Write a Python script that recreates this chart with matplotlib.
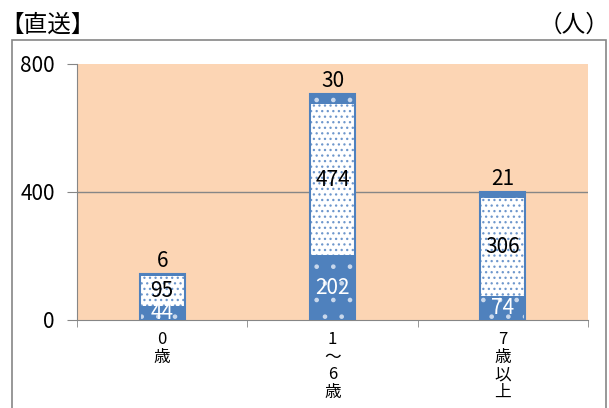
import numpy as np
import matplotlib.pyplot as plt
from matplotlib.patches import Rectangle

plt.rcParams['font.family'] = ['Noto Sans CJK JP', 'DejaVu Sans']
plt.rcParams['hatch.linewidth'] = 0.9

categories = ['0\n歳', '1\n～\n6\n歳', '7\n歳\n以\n上']
bottom_vals = [44, 202, 74]
middle_vals = [95, 474, 306]
top_vals = [6, 30, 21]

blue = '#4F81BD'
dot_blue = '#6E97CC'
peach = '#FCD5B4'
grid_gray = '#868686'

fig = plt.figure(figsize=(6.09, 4.08), dpi=100)
ax = fig.add_axes([77 / 609, 88 / 408, 511 / 609, 256 / 408])
ax.set_facecolor(peach)

x = np.arange(len(categories))
w = 0.265
b = np.array(bottom_vals)
m = np.array(middle_vals)
t = np.array(top_vals)

# solid base colours
ax.bar(x, b, w, color=blue, zorder=2)
ax.bar(x, m, w, bottom=b, color='white', zorder=2)
ax.bar(x, t, w, bottom=b + m, color=blue, zorder=2)
# dot patterns
ax.bar(x, b, w, facecolor='none', edgecolor='#C9D8EC', hatch='.', linewidth=0, zorder=3)
ax.bar(x, m, w, bottom=b, facecolor='none', edgecolor=dot_blue, hatch='...', linewidth=0, zorder=3)
ax.bar(x, t, w, bottom=b + m, facecolor='none', edgecolor='#C9D8EC', hatch='.', linewidth=0, zorder=3)
# outline
ax.bar(x, b + m + t, w, facecolor='none', edgecolor=blue, linewidth=1.5, zorder=4)

for i in range(len(x)):
    ax.text(x[i], b[i] / 2, str(b[i]), ha='center', va='center', color='white', fontsize=15, zorder=5)
    ax.text(x[i], b[i] + m[i] / 2, str(m[i]), ha='center', va='center', color='black', fontsize=15, zorder=5)
    ax.text(x[i], b[i] + m[i] + t[i] + 5, str(t[i]), ha='center', va='bottom', color='black', fontsize=15, zorder=5)

ax.set_xlim(-0.5, 2.5)
ax.set_ylim(0, 800)
ax.set_yticks([0, 400, 800])
ax.set_yticklabels(['0', '400', '800'], fontsize=15)
ax.axhline(400, color=grid_gray, linewidth=1, zorder=1)

ax.set_xticks(x)
ax.set_xticklabels(categories, fontsize=12, linespacing=1.05, va='top')
ax.tick_params(axis='x', length=0, pad=8)
ax.set_xticks([-0.5, 0.5, 1.5, 2.5], minor=True)
ax.tick_params(axis='x', which='minor', length=5, color=grid_gray)
ax.tick_params(axis='y', length=7, color=grid_gray, pad=9)

for s in ['top', 'right']:
    ax.spines[s].set_visible(False)
ax.spines['bottom'].set_color(grid_gray)
ax.spines['left'].set_color(grid_gray)

fig.patches.append(Rectangle((12 / 609, -0.01), 594 / 609, (368 + 4) / 408, transform=fig.transFigure,
                             fill=False, edgecolor=grid_gray, linewidth=1.2))

fig.text(0 / 609, 1 - 25 / 408, '【直送】', fontsize=17, ha='left', va='center')
fig.text(1.0, 1 - 25 / 408, '（人）', fontsize=17, ha='right', va='center')

fig.savefig('out.png', dpi=100)
